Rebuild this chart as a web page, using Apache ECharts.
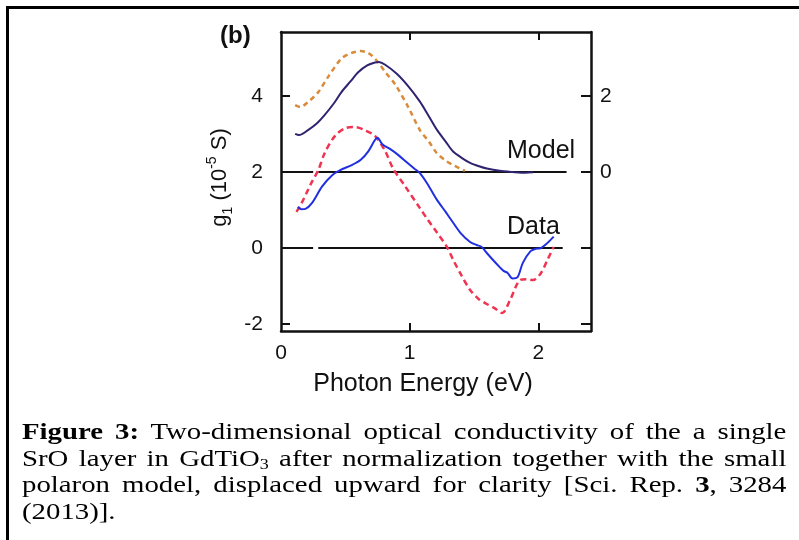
<!DOCTYPE html>
<html>
<head>
<meta charset="utf-8">
<script src="https://cdn.jsdelivr.net/npm/echarts@6/dist/echarts.min.js"></script>
<style>
  html, body { margin: 0; padding: 0; background: #fff; }
  #wrap { position: relative; width: 799px; height: 540px; overflow: hidden; }
  #chart { position: absolute; left: 0; top: 0; width: 799px; height: 540px; }
  /* the page frame: only top and left edges are visible */
  .frame { position: absolute; left: 6px; top: 6px; width: 800px; height: 540px;
    border-top: 3px solid #000; border-left: 3px solid #000; box-sizing: border-box; }
  .caption { position: absolute; left: 22px; top: 418px; width: 637px;
    transform: scaleX(1.2); transform-origin: 0 0;
    font-family: "Liberation Serif", "Times New Roman", serif; font-size: 24px; color: #000; }
  .caption div { line-height: 26.6px; text-align: justify; text-align-last: justify; white-space: normal; }
  .caption div.last { text-align-last: left; }
  .caption sub { font-size: 15px; vertical-align: -3px; line-height: 0; }
</style>
</head>
<body>
<div id="wrap">
  <div id="chart"></div>
  <div class="frame"></div>
  <div class="caption">
    <div><b>Figure 3:</b> Two-dimensional optical conductivity of the a single</div>
    <div>SrO layer in GdTiO<sub>3</sub> after normalization together with the small</div>
    <div>polaron model, displaced upward for clarity [Sci. Rep. <b>3</b>, 3284</div>
    <div class="last">(2013)].</div>
  </div>
</div>
<script>
// 读图得到的数据 (x: eV, y: 左轴 10^-5 S)
// model 曲线整体上移了 2
const modelCalc = [
  [0.11, 3.00], [0.14, 2.97], [0.21, 3.10], [0.28, 3.28], [0.34, 3.50], [0.41, 3.80],
  [0.47, 4.10], [0.54, 4.38], [0.60, 4.62], [0.67, 4.80], [0.73, 4.88], [0.76, 4.89],
  [0.81, 4.82], [0.90, 4.58], [0.99, 4.25], [1.08, 3.85], [1.14, 3.52], [1.21, 3.12],
  [1.28, 2.80], [1.34, 2.53], [1.41, 2.36], [1.47, 2.24], [1.54, 2.15], [1.60, 2.09],
  [1.70, 2.03], [1.80, 2.00], [1.90, 1.98], [1.96, 1.99]
]
const modelAlt = [
  [0.11, 3.76], [0.15, 3.71], [0.21, 3.84], [0.29, 4.10], [0.37, 4.52], [0.47, 4.98],
  [0.55, 5.13], [0.62, 5.18], [0.67, 5.14], [0.71, 5.05], [0.76, 4.86], [0.81, 4.63],
  [0.89, 4.29], [0.99, 3.70], [1.08, 3.10], [1.15, 2.80], [1.21, 2.50], [1.28, 2.30],
  [1.34, 2.18], [1.40, 2.08], [1.43, 2.03]
]
const dataRed = [
  [0.12, 0.95], [0.16, 1.18], [0.21, 1.53], [0.24, 1.74], [0.29, 2.05], [0.34, 2.50],
  [0.42, 2.95], [0.50, 3.15], [0.58, 3.18], [0.65, 3.10], [0.73, 2.95], [0.81, 2.55],
  [0.87, 2.10], [0.96, 1.65], [1.08, 1.05], [1.14, 0.75], [1.21, 0.42], [1.29, 0.03],
  [1.34, -0.32], [1.40, -0.70], [1.47, -1.10], [1.54, -1.35], [1.60, -1.47], [1.66, -1.58],
  [1.72, -1.71], [1.78, -1.37], [1.86, -0.84], [1.91, -0.82], [1.96, -0.84], [2.02, -0.66],
  [2.07, -0.32], [2.12, 0.03]
]
const dataBlue = [
  [0.13, 1.08], [0.16, 1.02], [0.19, 1.03], [0.24, 1.18], [0.32, 1.62], [0.40, 1.92],
  [0.46, 2.05], [0.55, 2.18], [0.62, 2.32], [0.68, 2.55], [0.73, 2.84], [0.75, 2.90],
  [0.79, 2.72], [0.85, 2.60], [0.91, 2.45], [0.98, 2.25], [1.04, 2.08], [1.08, 1.97],
  [1.14, 1.68], [1.21, 1.28], [1.28, 0.95], [1.34, 0.66], [1.40, 0.38], [1.47, 0.16],
  [1.52, 0.08], [1.56, 0.03], [1.60, -0.13], [1.65, -0.32], [1.70, -0.50], [1.73, -0.60],
  [1.76, -0.65], [1.80, -0.80], [1.84, -0.76], [1.88, -0.39], [1.94, -0.08], [1.98, -0.02],
  [2.02, 0.00], [2.07, 0.13], [2.12, 0.30]
]
// 两条零线 (Model 零线在左轴 2 处)
const modelZero = [[0, 2], [0.25, 2], [0.27, '-'], [0.29, 2], [2.22, 2]]
const dataZero = [[0, 0], [0.25, 0], [0.27, '-'], [0.29, 0], [2.19, 0]]

const xTicks = [0, 1, 2]
const leftTicks = [-2, 0, 2, 4]
const rightTicks = [-4, -2, 0, 2]
const rightLabels = [0, 2]

const font = '"Liberation Sans", Arial, sans-serif'
const black = '#111'

const chart = echarts.init(document.getElementById('chart'))

const frameLine = { onZero: false, lineStyle: { color: black, width: 2.5 } }

chart.setOption({
  animation: false,
  grid: { left: 281, top: 32, right: 208, bottom: 209, outerBoundsMode: 'none' },
  xAxis: [
    {
      type: 'value', min: 0, max: 2.41, position: 'bottom',
      axisLine: frameLine,
      axisTick: { inside: true, length: 8, lineStyle: { color: black, width: 2 }, customValues: [1, 2] },
      axisLabel: { customValues: xTicks, margin: 12, fontSize: 21, color: black, fontFamily: font },
      splitLine: { show: false },
      name: 'Photon Energy (eV)', nameLocation: 'middle', nameGap: 41,
      nameTextStyle: { fontSize: 25, color: black, fontFamily: font, padding: [0, 26, 0, 0] }
    },
    {
      type: 'value', min: 0, max: 2.41, position: 'top',
      axisLine: frameLine,
      axisTick: { inside: true, length: 8, lineStyle: { color: black, width: 2 }, customValues: [1, 2] },
      axisLabel: { show: false },
      splitLine: { show: false }
    }
  ],
  yAxis: [
    {
      type: 'value', min: -2.18, max: 5.68, position: 'left',
      axisLine: frameLine,
      axisTick: { inside: true, length: 9, lineStyle: { color: black, width: 2 }, customValues: leftTicks },
      axisLabel: { customValues: leftTicks, margin: 18, fontSize: 21, color: black, fontFamily: font },
      splitLine: { show: false },
      name: '{t|g}{sub|1}{t| (10}{sup|-5}{t| S)}',
      nameLocation: 'middle', nameRotate: 90, nameGap: 46,
      nameTextStyle: {
        padding: [0, 0, 0, 8],
        rich: {
          t: { fontSize: 22, lineHeight: 30, color: black, fontFamily: font },
          sub: { fontSize: 14, lineHeight: 14, verticalAlign: 'bottom', color: black, fontFamily: font },
          sup: { fontSize: 14, lineHeight: 14, verticalAlign: 'top', color: black, fontFamily: font }
        }
      }
    },
    {
      type: 'value', min: -4.18, max: 3.68, position: 'right',
      axisLine: frameLine,
      axisTick: { inside: true, length: 10, lineStyle: { color: black, width: 2 }, customValues: rightTicks },
      axisLabel: { customValues: rightLabels, margin: 9, fontSize: 21, color: black, fontFamily: font },
      splitLine: { show: false }
    }
  ],
  graphic: [
    { type: 'text', left: 220, top: 24, style: { text: '(b)', font: 'bold 24px ' + font, fill: black } },
    { type: 'text', left: 507, top: 139, style: { text: 'Model', font: '25px ' + font, fill: black } },
    { type: 'text', left: 507, top: 215, style: { text: 'Data', font: '25px ' + font, fill: black } }
  ],
  series: [
    { type: 'line', data: modelZero, symbol: 'none', connectNulls: false, lineStyle: { color: black, width: 2 } },
    { type: 'line', data: dataZero, symbol: 'none', connectNulls: false, lineStyle: { color: black, width: 2 } },
    { type: 'line', data: modelAlt, symbol: 'none', smooth: 0.3,
      lineStyle: { color: '#d98a3a', width: 2.5, type: [5, 4] } },
    { type: 'line', data: modelCalc, symbol: 'none', smooth: 0.3,
      lineStyle: { color: '#2e2470', width: 2 } },
    { type: 'line', data: dataRed, symbol: 'none', smooth: 0.3,
      lineStyle: { color: '#f03350', width: 2.5, type: [6, 4] } },
    { type: 'line', data: dataBlue, symbol: 'none', smooth: 0.3,
      lineStyle: { color: '#2030e0', width: 2 } }
  ]
})
</script>
</body>
</html>
